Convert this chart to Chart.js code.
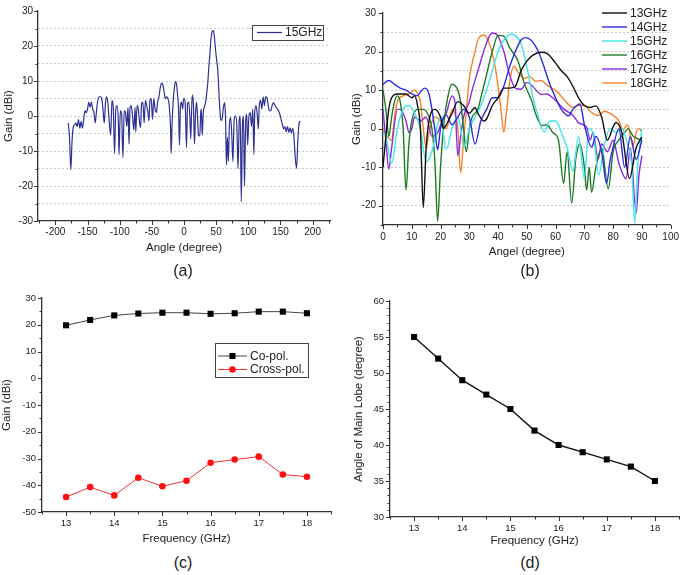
<!DOCTYPE html>
<html>
<head>
<meta charset="utf-8">
<script src="https://cdn.jsdelivr.net/npm/chart.js@4.4.1/dist/chart.umd.min.js"></script>
<style>
  body { margin: 0; width: 685px; height: 575px; background: #fff; position: relative; overflow: hidden;
         font-family: "Liberation Sans", Arial, sans-serif; }
  canvas { position: absolute; }
  .cap { position: absolute; width: 60px; margin-left: -30px; text-align: center; font-size: 16px;
         line-height: 18px; color: #222; }
</style>
</head>
<body>
<canvas id="ca" width="342" height="262" style="left:0;top:0"></canvas>
<canvas id="cb" width="343" height="262" style="left:342px;top:0"></canvas>
<canvas id="cc" width="342" height="290" style="left:0;top:262px"></canvas>
<canvas id="cd" width="343" height="290" style="left:342px;top:262px"></canvas>
<div class="cap" style="left:183px;top:262px">(a)</div>
<div class="cap" style="left:530px;top:262px">(b)</div>
<div class="cap" style="left:183px;top:554px">(c)</div>
<div class="cap" style="left:530px;top:554px">(d)</div>
<script>
// (a) radiation pattern at 15 GHz
const angleA = [-180,-178,-176,-174,-172,-170,-168,-166,-164,-162,
  -160,-158,-156,-154,-152,-150,-148,-146,-144,-142,
  -140,-138,-136,-134,-132,-130,-128,-126,-124,-122,
  -120.5,-118.5,-116.5,-114,-112,-110,-108,-106,-104,-102,
  -101,-99,-97,-95,-93,-91,-89,-87,-85.5,-84,
  -82,-80,-78,-76,-75,-73,-71,-69,-67.5,-66,
  -64,-62,-60,-58,-56,-54.5,-53,-51,-49,-47,
  -45,-43,-41,-39,-37,-35,-33,-31,-29,-27,
  -25,-23,-21,-20,-18.5,-16.5,-15,-13.2,-11.5,-10,
  -8.5,-7,-5.5,-4,-2,-1,0.5,2,3.9,5.5,
  7.5,9,10.5,12.7,14.5,16.3,18,19.5,21,22.5,
  24.6,26,27,28.3,30,31.5,33.4,35,37,38.6,
  40,42,44,45.5,47,49,51,52.6,54.5,56.5,
  58,59.5,61,63,64.5,66,67.5,69,70.5,72.3,
  74,76,78,80,82,84,86,87.5,89,91,
  92.5,94,96,97.5,99,101,103,105,107,108.6,
  110,112,114,115.5,117,119,121,123,125,127,
  129,131,133,135,137,139,141,143,145,147,
  149,151,153,155,157,159,161,163,165,167,
  169,171,173,175,177,179,181];
const gainA = [-2,-6,-15.3,-7,-3,-2.5,-2,-3,-1,-3.5,
  -1.5,-3.5,-1,1.5,1,2,4,2.5,4,2,
  1,-2,1.5,4.5,5.5,5.5,5,2,-2,4,
  5.5,4,-1,-5.4,4.5,2.5,-10.7,2,3,-2,
  -11,1.5,0.5,-11.9,1.5,1,-3,2.5,-8,2,
  3,0,-4,2.5,-4.6,3,2,-2,-3.3,3.5,
  4,-2,4.5,3,1,-1.4,4.5,5,-1,5,
  2,1,4,5.5,8,9.4,9,7,5,5.5,
  5,3,-3,-10.7,-2,5,8,9.8,9,6,
  2,-8.3,3,4,2,4.5,5,3,-9,3.5,
  4,0,-6.5,6,4,-8,1,4,0,-5.5,
  -5.7,1,2,-5.5,1,2.5,3.8,6,9.5,14,
  17,22,24.3,24.4,23,19,15.5,13,6,0,
  -1.3,-0.5,2,3.8,0,-14,-6,-13,-3,-0.4,
  -4,-13,-1,0,-2,-15,-1,0,-24.5,-2,
  0,-20,-1,0.5,-8.3,0,1,-3,2,-11,
  1,3,0,-3.7,3,4.5,2,5.5,3,5.5,
  5.2,3,1.5,1.5,3,3.8,3.2,2.5,2,1.5,
  0.5,-1,-2.5,-3.7,-3,-4.5,-3,-4.7,-3.4,-4.8,
  -3.5,-6,-12,-15,-7,-2,-1.5];

// (b) patterns for 13..18 GHz
const ang13 = [0,1,2,3,5,8,10,11,12,13,14,15,16,18,20,21,22,24,26,28,30,32,33,35,36,38,40,42,44,46,48,50,52,55,57,60,62,64,66,68,70,72,74,76,78,80,81,83,85.7,88,90];
const gain13 = [-10,-2,5,8,9,9,8,8.5,6,0,-20.5,-5,2,5,3,0,1,4,7,6,4,5.5,4,2,2.5,6,8,10.5,10.5,11,15,17.5,19,19.8,19.5,17,15,13.5,11,8,6,5.5,5.9,3,-3,0.5,1.6,-1,-12.9,-5,-2.2];
const ang14 = [0,2,4,6,8,10,12,13,14.5,16,17,18,19,20,22,24,26,28,30,32,34,36,38,40,42,44,46,48,49.5,52,54,56,58,60,62,64.5,66,68.5,70,72.5,74,76,77.7,79,80,82,84,86,88,90];
const gain14 = [11.5,12.5,11.5,10.5,10,9,8.5,9.5,10.5,9,5,0,-5.5,0,3.5,1,3,5,3,-4,2,5,8,8,11,16,20,23,23.6,22.5,20,16,11.5,8,5,3.3,5,6.4,1,-4.8,-2,-6,-14.2,-8,-4.8,0,-10,-2,-8,-3];
const ang15 = [0,1,3,5,7,9,11,13,15,17,19,20,22,24,26,28.3,30,32,34,36,38,40,42,44.5,46,48,50,52,54,56,58,60,62,64,66,68,70,71.5,73,75,77,79,81,83,85,86.5,87.5,88.5,90];
const gain15 = [-1,-2,-9,0,5,6,4,0,-8.6,-6,1,3,-5.4,0,3,-4.8,0,3,6,10,15,20,23,24.5,24.2,22,16,8.5,3,-0.9,2,2,-1,-5,-11,-2,-13,0,-1,-12,-4,0,-1,0,-4,-10,-24.5,-10,0];
const ang16 = [0,1,2,3,4,5,6,7,8,9,10,12,14,16,17,18,19,20,21,22,24,26,27,28,29,30,31,33,34,36,38,40,42,44,47,49,51.7,53,55.3,57,59,61,62.8,64,65.6,67,68.5,70,70.8,71.7,72.5,74,76,78.3,80,82,84,85.2,87,90];
const gain16 = [10,5,-2,3,7,8.5,7,0,-16,-4,2,5,5,3,0,-8,-24,-10,0,6,11.5,10,7,0,-6,0,3,5,8,14,20,24.2,24,21,17.4,12,7.2,4,0.8,1,-1,-3,-14.2,-6,-19.3,-8,-4,-10,-16,-10,-16.5,-10,-5,-15.6,-6,-3,-1,0,-2,-3];
const ang17 = [0,1,2,3,5,6,8,9,10,11,13,15,17,19,21,22,24,25,26,27,28,30,31,33,35,37,38,40,42,44,46,48,50,52,55,57,59,61,63,66,68,70.8,72,73,74.8,76,78,80,82,84.5,86,88,89,90];
const gain17 = [5,-3,-10.5,-5,5,5,2,-1,0,3,2,3,-2,-1,3,4,8.5,7,-7,-2,3,7,10,15,20,24,24.8,24,20,14,10.5,10.2,12,11,8.9,9,8,6.5,5,3.5,1.5,0.3,-3,-1,-7.9,-4,-6,-3,-9,-13,-5,-21.9,-12,-7];
const ang18 = [0,1,3,4,5,7,9,11,12,13,14,15,16,18,20,22,24,25,26,27,28,29,30,32,33,35,37,39,41,42,43,44,45.5,47,49,51,53,55,57,60.5,63,66,68,70.2,72,74.8,77,80,82,83.4,85,86.9,88,89.2,90];
const gain18 = [0,-1.5,-3,3,7,8.5,9,10,9,7,0,-5,-1,3,2,0,5,4,0,-11.5,-3,5,13,20,23,24.3,22,16,5,-1,5,12,16.2,14.6,13,13.5,12.3,12.5,11.3,9.6,7.5,5.5,6,6,4.5,3.4,4.5,3.4,2,-0.3,1,-4.6,-1,0,-1];

// (c) and (d) versus frequency
const freq = [13,13.5,14,14.5,15,15.5,16,16.5,17,17.5,18];
const coPol = [19.8,21.8,23.5,24.2,24.5,24.5,24.1,24.3,24.9,24.9,24.3];
const crossPol = [-44.4,-40.7,-43.8,-37.2,-40.4,-38.3,-31.6,-30.4,-29.3,-36.0,-36.8];
const mainLobe = [55,52,49,47,45,42,40,39,38,37,35];

Chart.defaults.font.family = '"Liberation Sans", Arial, sans-serif';
Chart.defaults.color = '#222';

function pairs(xs, ys) {
  return xs.map((x, i) => ({ x: x, y: ys[i] }));
}

function isMajor(v, step) {
  const r = v / step;
  return Math.abs(r - Math.round(r)) < 1e-6;
}

// outward tick marks, long on labelled values, short on the others
const tickMarks = {
  id: 'tickMarks',
  afterDraw(chart, args, opts) {
    if (!opts.x) return;
    const ctx = chart.ctx, area = chart.chartArea;
    ctx.save();
    ctx.strokeStyle = '#333';
    ctx.lineWidth = 1;
    ['x', 'y'].forEach(id => {
      const s = chart.scales[id];
      s.ticks.forEach((t, i) => {
        const p = Math.round(s.getPixelForTick(i)) + 0.5;
        const len = isMajor(t.value, opts[id]) ? 4 : 2.5;
        ctx.beginPath();
        if (id === 'x') { ctx.moveTo(p, area.bottom); ctx.lineTo(p, area.bottom + len); }
        else { ctx.moveTo(area.left, p); ctx.lineTo(area.left - len, p); }
        ctx.stroke();
      });
    });
    ctx.restore();
  }
};

// legend drawn inside the plot
const innerLegend = {
  id: 'innerLegend',
  afterDraw(chart, args, o) {
    if (!o.x) return;
    const ctx = chart.ctx;
    ctx.save();
    if (o.box) {
      ctx.fillStyle = '#fff';
      ctx.fillRect(o.box[0], o.box[1], o.box[2], o.box[3]);
      ctx.strokeStyle = '#444';
      ctx.lineWidth = 1;
      ctx.strokeRect(o.box[0] + 0.5, o.box[1] + 0.5, o.box[2], o.box[3]);
    }
    ctx.font = '12px "Liberation Sans", Arial, sans-serif';
    ctx.textBaseline = 'middle';
    chart.data.datasets.forEach((ds, i) => {
      const y = o.y + i * o.row;
      ctx.strokeStyle = ds.borderColor;
      ctx.lineWidth = ds.borderWidth;
      ctx.beginPath();
      ctx.moveTo(o.x, y);
      ctx.lineTo(o.x + o.len, y);
      ctx.stroke();
      if (ds.pointRadius > 0) {
        const cx = o.x + o.len / 2;
        ctx.fillStyle = ds.pointBackgroundColor;
        if (ds.pointStyle === 'rect') {
          ctx.fillRect(cx - 3, y - 3, 6, 6);
        } else {
          ctx.beginPath();
          ctx.arc(cx, y, 3.3, 0, Math.PI * 2);
          ctx.fill();
        }
      }
      ctx.fillStyle = '#222';
      ctx.fillText(ds.label, o.x + o.len + 3, y + 0.5);
    });
    ctx.restore();
  }
};

Chart.register(tickMarks, innerLegend);

function xAxis(o) {
  return {
    type: 'linear', min: o.min, max: o.max,
    grid: { display: false, drawTicks: false },
    border: { display: true, color: '#333', width: 1.3 },
    ticks: {
      stepSize: o.step, autoSkip: false, maxRotation: 0, includeBounds: false,
      padding: o.pad, font: { size: o.font }, color: '#222',
      callback: v => isMajor(v, o.major) ? String(v) : ''
    },
    title: { display: true, text: o.title, font: { size: 11.5 }, color: '#222',
             padding: { top: 0, bottom: o.titlePad } },
    afterFit: s => { s.height = o.size; }
  };
}

function yAxis(o) {
  return {
    type: 'linear', min: o.min, max: o.max,
    grid: {
      display: !!o.grid, drawTicks: false, lineWidth: 1,
      color: c => (c.tick && c.tick.value > o.min && c.tick.value < o.max) ? '#b8b8b8' : 'rgba(0,0,0,0)'
    },
    border: { display: true, color: '#333', width: 1.3, dash: [1.5, 2.5] },
    ticks: {
      stepSize: o.step, autoSkip: false, includeBounds: false,
      padding: o.pad, font: { size: o.font }, color: '#222',
      callback: v => isMajor(v, o.major) ? String(v) : ''
    },
    title: { display: true, text: o.title, font: { size: 11.5 }, color: '#222',
             padding: { top: o.titlePad, bottom: 0 } },
    afterFit: s => { s.width = o.size; }
  };
}

function baseOptions(pad, xs, ys, marks, legend) {
  return {
    responsive: false, animation: false, devicePixelRatio: 1,
    layout: { padding: pad },
    scales: { x: xs, y: ys },
    plugins: {
      legend: { display: false }, tooltip: { enabled: false },
      tickMarks: marks, innerLegend: legend
    }
  };
}

function patternLine(label, xs, ys, color, width) {
  return {
    label: label, data: pairs(xs, ys), borderColor: color, borderWidth: width,
    pointRadius: 0, fill: false, cubicInterpolationMode: 'monotone'
  };
}

// (a)
new Chart(document.getElementById('ca'), {
  type: 'line',
  data: { datasets: [patternLine('15GHz', angleA, gainA, '#2e3192', 1.2)] },
  options: baseOptions({ top: 6, right: 12, left: 0, bottom: 0 },
    xAxis({ min: -227, max: 227, step: 25, major: 50, title: 'Angle (degree)', font: 10, pad: 5, titlePad: 7, size: 41 }),
    yAxis({ min: -30, max: 30, step: 5, major: 10, title: 'Gain (dBi)', font: 10, pad: 5, titlePad: 2, size: 38, grid: true }),
    { x: 50, y: 10 },
    { x: 257, y: 32.5, row: 14, len: 25, box: [252, 25, 71, 15] })
});

// (b)
new Chart(document.getElementById('cb'), {
  type: 'line',
  data: { datasets: [
    patternLine('13GHz', ang13, gain13, '#111111', 1.4),
    patternLine('14GHz', ang14, gain14, '#2b2bdf', 1.4),
    patternLine('15GHz', ang15, gain15, '#3ee6ea', 1.4),
    patternLine('16GHz', ang16, gain16, '#1f7a24', 1.4),
    patternLine('17GHz', ang17, gain17, '#8a2be2', 1.4),
    patternLine('18GHz', ang18, gain18, '#f7812a', 1.4)
  ] },
  options: baseOptions({ top: 11, right: 12, left: 0, bottom: 0 },
    xAxis({ min: 0, max: 100, step: 5, major: 10, title: 'Angel (degree)', font: 10, pad: 6, titlePad: 3, size: 37 }),
    yAxis({ min: -25, max: 30, step: 5, major: 10, title: 'Gain (dBi)', font: 10, pad: 7, titlePad: 8, size: 41, grid: true }),
    { x: 10, y: 10 },
    { x: 260, y: 13, row: 14, len: 25 })
});

// (c)
new Chart(document.getElementById('cc'), {
  type: 'line',
  data: { datasets: [
    { label: 'Co-pol.', data: pairs(freq, coPol), borderColor: '#444', borderWidth: 1,
      pointStyle: 'rect', pointRadius: 4.3, pointBackgroundColor: '#000', pointBorderColor: '#000', pointBorderWidth: 0 },
    { label: 'Cross-pol.', data: pairs(freq, crossPol), borderColor: '#f03030', borderWidth: 1,
      pointStyle: 'circle', pointRadius: 3.3, pointBackgroundColor: '#ff1010', pointBorderColor: '#ff1010', pointBorderWidth: 0 }
  ] },
  options: baseOptions({ top: 36, right: 11, left: 0, bottom: 0 },
    xAxis({ min: 12.5, max: 18.5, step: 0.5, major: 1, title: 'Frequency (GHz)', font: 9.5, pad: 6, titlePad: 6, size: 40 }),
    yAxis({ min: -50, max: 30, step: 5, major: 10, title: 'Gain (dBi)', font: 9.5, pad: 6, titlePad: 0, size: 42, grid: false }),
    { x: 1, y: 10 },
    { x: 218, y: 94, row: 13.5, len: 29, box: [215, 81, 93, 34] })
});

// (d)
new Chart(document.getElementById('cd'), {
  type: 'line',
  data: { datasets: [
    { label: 'Main lobe', data: pairs(freq, mainLobe), borderColor: '#111', borderWidth: 1.4,
      pointStyle: 'rect', pointRadius: 4.3, pointBackgroundColor: '#000', pointBorderColor: '#000', pointBorderWidth: 0 }
  ] },
  options: baseOptions({ top: 39, right: 4, left: 0, bottom: 0 },
    xAxis({ min: 12.5, max: 18.5, step: 0.5, major: 1, title: 'Frequency (GHz)', font: 9.5, pad: 6, titlePad: 4, size: 35 }),
    yAxis({ min: 30, max: 60, step: 1, major: 5, title: 'Angle of Main Lobe (degree)', font: 9.5, pad: 6, titlePad: 10, size: 48, grid: false }),
    { x: 1, y: 5 },
    {})
});
</script>
</body>
</html>
